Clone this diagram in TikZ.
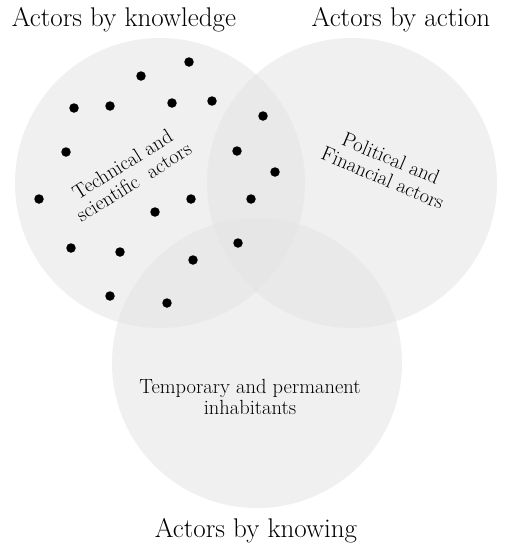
\documentclass[tikz,border=0pt]{standalone}
\begin{document}
\begin{tikzpicture}[x=1pt,y=-1pt,
  setc/.style={fill=black!10,fill opacity=0.57,draw=none},
  dot/.style={circle,fill=black,inner sep=0pt,minimum size=9.5pt},
  title/.style={font=\fontsize{27}{30}\selectfont,inner sep=0pt},
  lbl/.style={font=\fontsize{20.5}{21}\selectfont,align=center,inner sep=0pt}]
\useasboundingbox (0,0) rectangle (508,550);
\fill[white] (0,0) rectangle (508,550);
\fill[setc] (160,183) circle (145);
\fill[setc] (352,183) circle (145);
\fill[setc] (257,363) circle (145);
\node[title,anchor=base] (tk) at (124,26) {Actors by knowledge};
\node[title,anchor=base] (ta) at (401,26) {Actors by action};
\node[title,anchor=base] (tn) at (256,537) {Actors by knowing};
\node[lbl,rotate=32] (l1) at (128,173) {Technical and\\scientific\ \ actors};
\node[lbl,rotate=-23] (l2) at (387,168) {Political and\\Financial actors};
\node[lbl] (l3) at (250,397) {Temporary and permanent\\inhabitants};
\foreach \n/\p in {1/{189,62},2/{141,76},3/{74,108},4/{110,106},5/{172,103},6/{212,101},7/{263,116},8/{66,152},9/{237,151},10/{275,172},11/{39,199},12/{155,212},13/{191,199},14/{251,199},15/{71,248},16/{120,252},17/{193,260},18/{238,243},19/{110,296},20/{167,303}}
  \node[dot] (d\n) at (\p) {};
\end{tikzpicture}
\end{document}
